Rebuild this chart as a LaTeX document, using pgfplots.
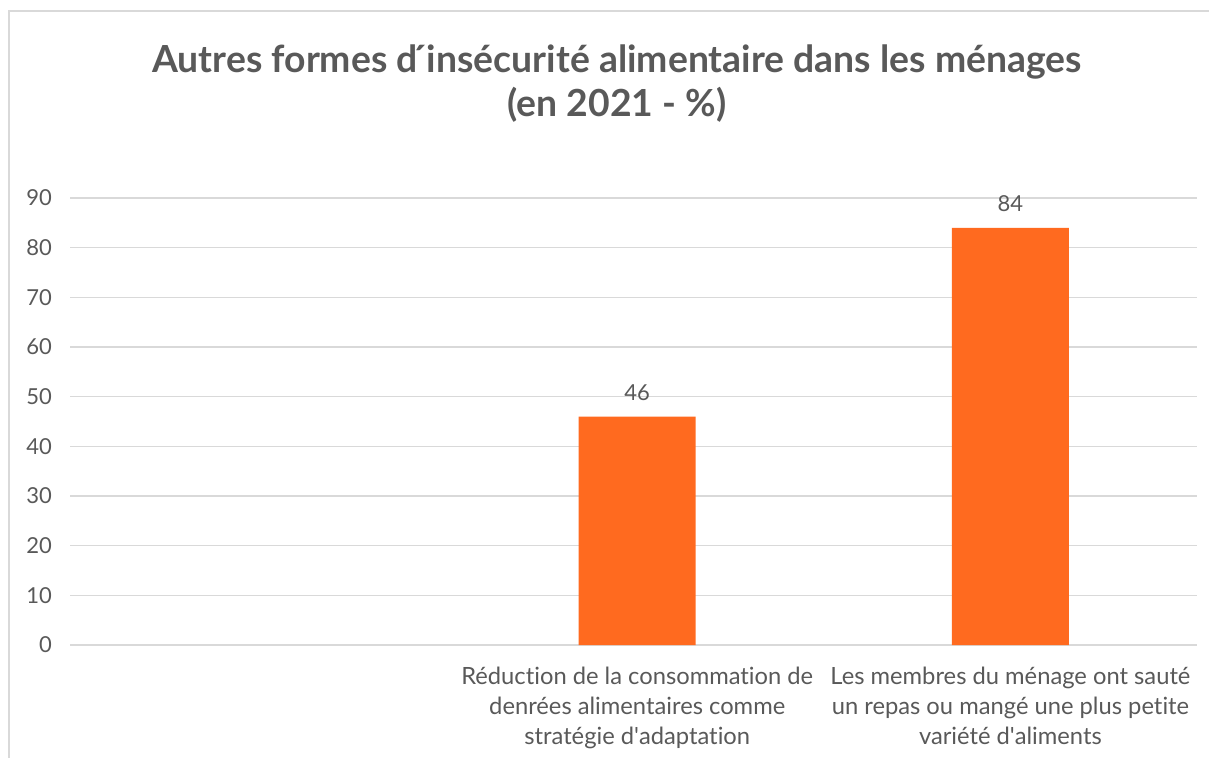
\documentclass[border=0pt]{standalone}
\usepackage{pgfplots}
\pgfplotsset{compat=1.18}
\usepackage{fontspec}
\setmainfont{Lato}[Ligatures={NoCommon}]
\definecolor{txt}{HTML}{595959}
\definecolor{gridc}{HTML}{D9D9D9}
\definecolor{barc}{HTML}{FF6A1F}
\begin{document}
\begin{tikzpicture}
\path[use as bounding box] (0,0) rectangle (906.75pt,567.75pt);
\draw[gridc,line width=1.2pt] (6.75pt,-5pt) -- (6.75pt,559.5pt) -- (912pt,559.5pt);
\node[font=\bfseries\fontsize{28}{33}\selectfont, text=txt, align=center] at (462.75pt,505pt)
  {Autres formes d\'{}insécurité alimentaire dans les ménages\\(en 2021 - \%)};
\begin{axis}[
  at={(52.5pt,84pt)}, anchor=south west,
  scale only axis, width=845.25pt, height=335.25pt,
  xmin=-0.52, xmax=2.5, ymin=0, ymax=90,
  ytick={0,10,...,90},
  xtick={0,1,2},
  xticklabels={{},{Réduction de la consommation de\\denrées alimentaires comme\\stratégie d\textquotesingle adaptation},{Les membres du ménage ont sauté\\un repas ou mangé une plus petite\\variété d\textquotesingle aliments}},
  x tick label style={align=center, font=\fontsize{17.8}{22.5}\selectfont, text=txt, inner sep=0pt, yshift=-16pt},
  y tick label style={font=\fontsize{16.5}{20}\selectfont, text=txt, xshift=-10pt},
  /pgf/number format/assume math mode=true,
  axis line style={draw=none},
  major tick length=0pt,
  ymajorgrids, xmajorgrids=false,
  grid style={draw=gridc, line width=0.9pt},
  ybar, bar width=87.75pt,
  nodes near coords,
  every node near coord/.append style={font=\fontsize{16.5}{20}\selectfont, text=txt, yshift=8.5pt},
  clip=false,
]
\addplot[fill=barc, draw=none] coordinates {(1,46) (2,84)};
\end{axis}
\end{tikzpicture}
\end{document}
